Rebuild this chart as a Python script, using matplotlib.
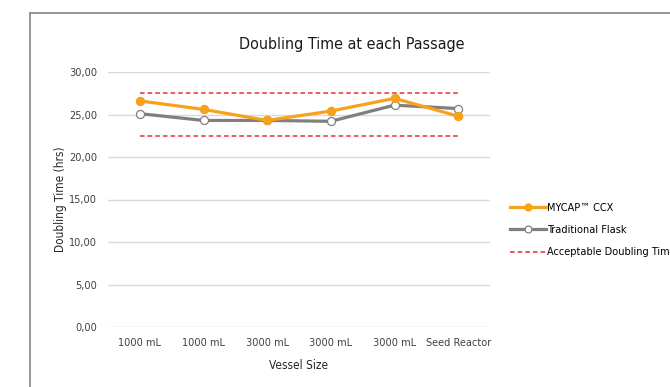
import matplotlib
matplotlib.use('Agg')
import matplotlib.pyplot as plt
from matplotlib.patches import Rectangle
from matplotlib.ticker import FuncFormatter

# passages and doubling times (hrs)
vessels = ['1000 mL', '1000 mL', '3000 mL', '3000 mL', '3000 mL', 'Seed Reactor']
mycap = [26.6, 25.6, 24.3, 25.4, 26.9, 24.8]
flask = [25.1, 24.3, 24.3, 24.2, 26.1, 25.7]
limit_hi = [27.5] * 6
limit_lo = [22.5] * 6
yticks = [0, 5, 10, 15, 20, 25, 30]

plt.rcParams['font.family'] = ['DejaVu Sans']
plt.rcParams['font.stretch'] = 'condensed'


def main():
	fig = plt.figure(figsize=(6.7, 3.87), dpi=100)

	# chart border (open to the right and bottom)
	fig.patches.append(Rectangle((30 / 670, -0.1), 2, 1.1 - 13 / 387,
		transform=fig.transFigure, fill=False, edgecolor='#8c8c8c', linewidth=1.3))

	ax = fig.add_axes([108 / 670, 1 - 327 / 387, 382 / 670, 255 / 387])
	x = range(len(vessels))

	ax.plot(x, mycap, color='#f7a21b', linewidth=2.3, marker='o', markersize=5.8,
		markerfacecolor='#f7a21b', markeredgecolor='#f7a21b', label='MYCAP\u2122 CCX', zorder=4)
	ax.plot(x, flask, color='#7f7f7f', linewidth=2.3, marker='o', markersize=5.8,
		markerfacecolor='white', markeredgecolor='#7f7f7f', markeredgewidth=0.9,
		label='Traditional Flask', zorder=3)
	ax.plot(x, limit_hi, color='#e8302c', linewidth=1.1, linestyle=(0, (3, 2)),
		label='Acceptable Doubling Time', zorder=2)
	ax.plot(x, limit_lo, color='#e8302c', linewidth=1.1, linestyle=(0, (3, 2)), zorder=2)

	ax.set_xlim(-0.5, len(vessels) - 0.5)
	ax.set_ylim(0, 30)
	ax.set_yticks(yticks)
	ax.yaxis.set_major_formatter(FuncFormatter(lambda v, p: ('%.2f' % v).replace('.', ',')))
	ax.set_xticks(list(x))
	ax.set_xticklabels(vessels)
	ax.grid(axis='y', color='#d9d9d9', linewidth=1)
	ax.set_axisbelow(True)
	for s in ax.spines.values():
		s.set_visible(False)
	ax.tick_params(length=0, labelsize=7.8, colors='#404040', pad=8)
	ax.tick_params(axis='y', pad=8)

	ax.set_xlabel('Vessel Size', fontsize=8.5, color='#262626', labelpad=8)
	ax.set_ylabel('Doubling Time (hrs)', fontsize=8.5, color='#262626', labelpad=1)
	fig.text(352 / 670, 1 - 45 / 387, 'Doubling Time at each Passage', ha='center', va='center',
		fontsize=11.5, color='#1a1a1a')

	ax.legend(loc='center left', bbox_to_anchor=(500 / 670, 1 - 230 / 387),
		bbox_transform=fig.transFigure, frameon=False, fontsize=7.8, handlelength=3.3,
		handletextpad=0.15, labelspacing=1.15, markerscale=0.85)

	fig.savefig('out.png', dpi=100)


if __name__ == '__main__':
	main()
